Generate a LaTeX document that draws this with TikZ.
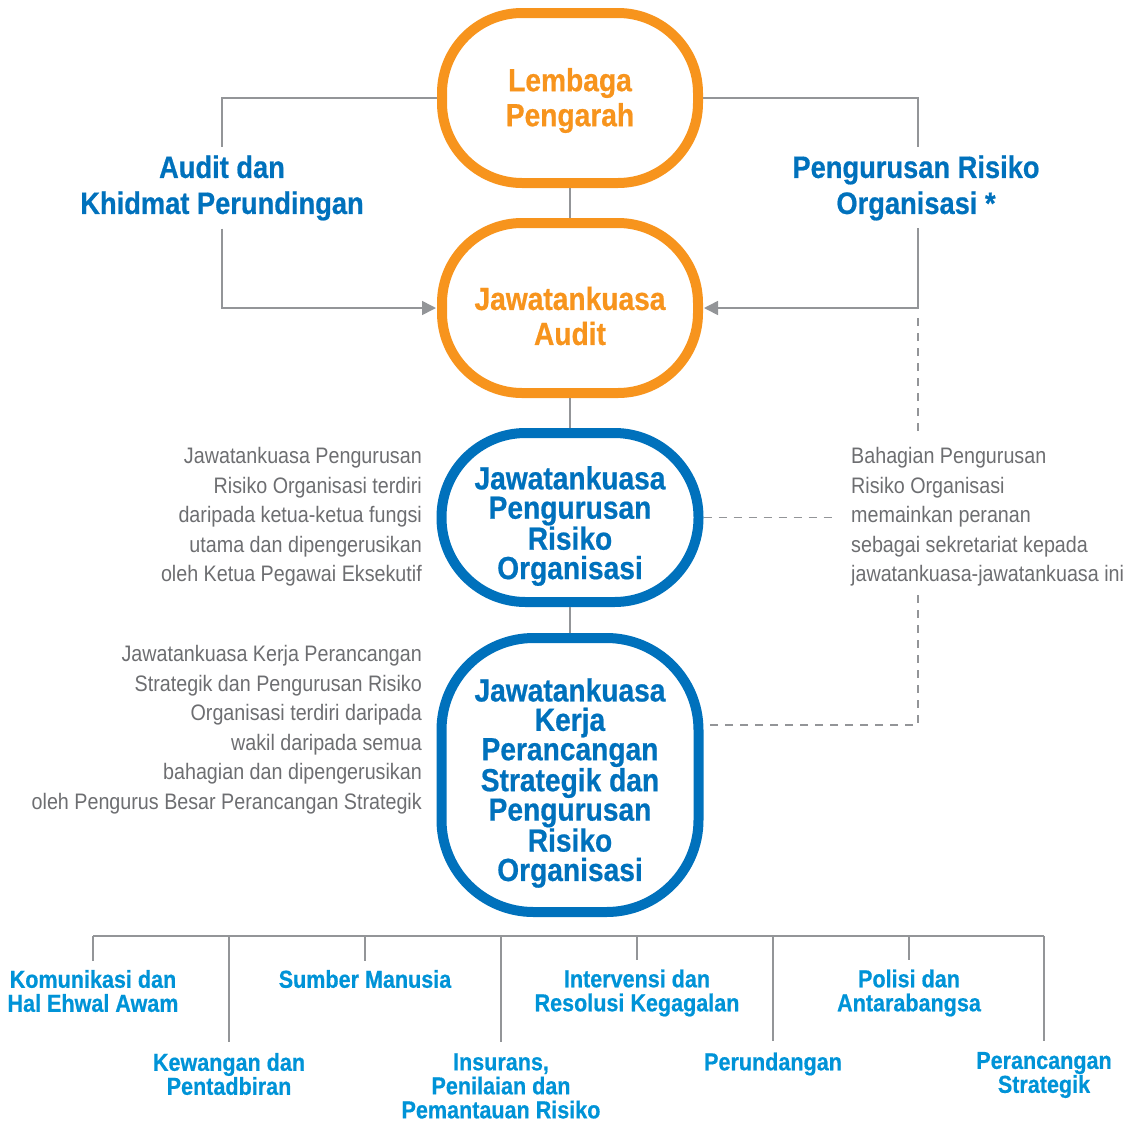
\documentclass[tikz,border=0pt]{standalone}
\usepackage{fontspec}
\setmainfont{Liberation Sans}[FakeStretch=0.88, BoldFeatures={FakeBold=0.6}]
\usetikzlibrary{arrows.meta}
\definecolor{orgorange}{HTML}{F7941D}
\definecolor{orgblue}{HTML}{0071BC}
\definecolor{unitblue}{HTML}{0093D7}
\definecolor{linegray}{HTML}{939598}
\definecolor{textgray}{HTML}{6D6E71}
\tikzset{
  orgbox/.style={draw=orgorange, line width=10pt, minimum width=256pt, minimum height=170pt, rounded corners=80pt, inner sep=0pt},
  bluebox/.style={draw=orgblue, line width=10pt, minimum width=257pt, rounded corners=84pt, inner sep=0pt},
  orgtitle/.style={text=orgorange, font=\fontsize{32}{35}\selectfont\bfseries, align=center, inner sep=0pt},
  bluetitle/.style={text=orgblue, font=\fontsize{32}{29.4}\selectfont\bfseries, align=center, inner sep=0pt},
  toplabel/.style={text=orgblue, font=\fontsize{31}{36}\selectfont\bfseries, align=center, inner xsep=0pt, inner ysep=8pt},
  note/.style={text=textgray, font=\fontsize{22.4}{29.5}\selectfont, inner sep=0pt},
  unit/.style={text=unitblue, font=\fontsize{24.5}{24}\selectfont\bfseries, align=center, inner xsep=0pt, inner ysep=9pt},
  unitlow/.style={unit, inner ysep=11pt},
  conn/.style={draw=linegray, line width=1.6pt},
  dashconn/.style={draw=linegray, line width=1.6pt, dash pattern=on 8pt off 7pt},
  arr/.style={conn, -{Triangle[length=14pt,width=14pt]}}
}
\begin{document}
\begin{tikzpicture}[x=1pt,y=-1pt]
\useasboundingbox (0,0) rectangle (1135,1122);

% main boxes (shapes)
\node[orgbox] (L) at (570,98) {};
\node[orgbox] (A) at (570,308) {};
\node[bluebox, minimum height=169pt] (R) at (570,517.5) {};
\node[bluebox, minimum height=274pt, rounded corners=92pt] (K) at (570,775) {};

% titles
\node[orgtitle] (Lt) at (570,100.5) {Lembaga\\Pengarah};
\node[orgtitle] (At) at (570,316) {Jawatankuasa\\Audit};
\node[bluetitle] (Rt) at (570,526) {Jawatankuasa\\Pengurusan\\Risiko\\Organisasi};
\node[bluetitle] (Kt) at (570,783) {Jawatankuasa\\Kerja\\Perancangan\\Strategik dan\\Pengurusan\\Risiko\\Organisasi};

% side labels
\node[toplabel] (ADK) at (222,188) {Audit dan\\Khidmat Perundingan};
\node[toplabel] (PRO) at (916,188) {Pengurusan Risiko\\Organisasi *};

% vertical connectors between boxes
\draw[conn] (L.south) -- (A.north);
\draw[conn] (A.south) -- (R.north);
\draw[conn] (R.south) -- (K.north);

% left loop
\coordinate (Aw) at ([xshift=-1pt]A.west);
\draw[conn] (L.west) -| (ADK.north);
\draw[arr] (ADK.south) |- (Aw);

% right loop
\coordinate (Ae) at ([xshift=1pt]A.east);
\coordinate (r1) at (918,147);
\coordinate (r2) at (918,228);
\draw[conn] (L.east) -| (r1);
\draw[arr] (r2) |- (Ae);

% dashed secretariat lines
\coordinate (d1) at (918,318);
\coordinate (d2) at (918,437);
\coordinate (d3) at (918,595);
\coordinate (d4) at (918,725);
\coordinate (d5) at (838,517.5);
\draw[dashconn] (d1) -- (d2);
\draw[dashconn] (d3) -- (d4) -- (d4 -| K.east);
\draw[dashconn] (R.east) -- (d5);

% notes
\node[note, anchor=west, align=left] (N1) at (851,517) {Bahagian Pengurusan\\Risiko Organisasi\\memainkan peranan\\sebagai sekretariat kepada\\jawatankuasa-jawatankuasa ini};
\node[note, anchor=east, align=right] (N2) at (422,517) {Jawatankuasa Pengurusan\\Risiko Organisasi terdiri\\daripada ketua-ketua fungsi\\utama dan dipengerusikan\\oleh Ketua Pegawai Eksekutif};
\node[note, anchor=east, align=right] (N3) at (422,729.5) {Jawatankuasa Kerja Perancangan\\Strategik dan Pengurusan Risiko\\Organisasi terdiri daripada\\wakil daripada semua\\bahagian dan dipengerusikan\\oleh Pengurus Besar Perancangan Strategik};

% departments
\node[unit] (u1) at (93,991) {Komunikasi dan\\Hal Ehwal Awam};
\node[unitlow] (u2) at (229,1074) {Kewangan dan\\Pentadbiran};
\node[unit] (u3) at (365,979) {Sumber Manusia};
\node[unitlow] (u4) at (501,1086) {Insurans,\\Penilaian dan\\Pemantauan Risiko};
\node[unit] (u5) at (637,993) {Intervensi dan\\Resolusi Kegagalan};
\node[unitlow] (u6) at (773,1064) {Perundangan};
\node[unit] (u7) at (909,993) {Polisi dan\\Antarabangsa};
\node[unitlow, font=\fontsize{24.5}{22.5}\selectfont\bfseries] (u8) at (1044,1075) {Perancangan\\Strategik};

% tree bar
\coordinate (b1) at (93,936);
\coordinate (b2) at (229,936);
\coordinate (b3) at (365,936);
\coordinate (b4) at (501,936);
\coordinate (b5) at (637,936);
\coordinate (b6) at (773,936);
\coordinate (b7) at (909,936);
\coordinate (b8) at (1044,936);
\draw[conn] (b1) -- (b8);
\foreach \i in {1,...,8} {\draw[conn] (b\i) -- (u\i.north -| b\i);}
\end{tikzpicture}
\end{document}
